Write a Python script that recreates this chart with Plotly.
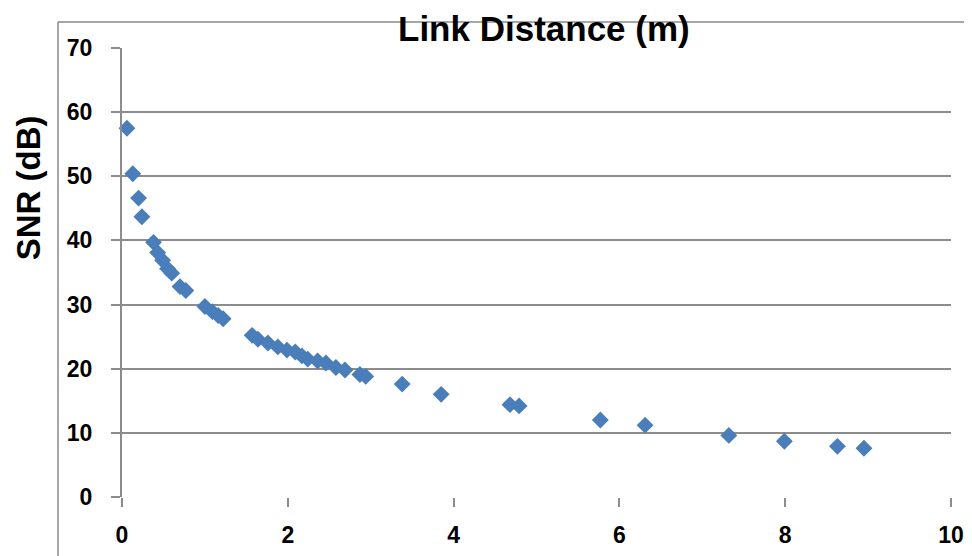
import plotly.graph_objects as go

# Data
link_distance_m = [0.06, 0.13, 0.20, 0.24, 0.38, 0.43, 0.49, 0.55, 0.60, 0.70, 0.77,
                   1.00, 1.09, 1.16, 1.22, 1.57, 1.64, 1.76, 1.88, 1.99, 2.09, 2.17,
                   2.24, 2.36, 2.46, 2.58, 2.69, 2.87, 2.94, 3.38, 3.85, 4.68, 4.79,
                   5.77, 6.31, 7.32, 7.99, 8.63, 8.95]
snr_db = [57.5, 50.4, 46.6, 43.7, 39.7, 38.1, 36.9, 35.6, 34.9, 32.8, 32.2,
          29.7, 28.9, 28.3, 27.8, 25.2, 24.6, 24.0, 23.4, 22.9, 22.6, 22.0,
          21.5, 21.2, 20.9, 20.2, 19.8, 19.1, 18.8, 17.6, 16.0, 14.4, 14.2,
          12.0, 11.2, 9.6, 8.7, 7.9, 7.6]

x_ticks = [0, 2, 4, 6, 8, 10]
y_ticks = [0, 10, 20, 30, 40, 50, 60, 70]

# page body has an 8px default margin; positions below are in figure pixels
OFF = 8
W, H = 972, 556
L, R, T, B = 122 - OFF, 951 - OFF, 47.7 - OFF, 496.7 - OFF

FONT = "Liberation Sans, Arial, sans-serif"
GRID = "#8c8c8c"


def px(xpix):
    return (xpix - OFF - L) / (R - L)


def py(ypix):
    return (B - (ypix - OFF)) / (B - T)


fig = go.Figure()
fig.add_trace(go.Scatter(
    x=link_distance_m, y=snr_db, mode="markers",
    marker=dict(symbol="diamond", size=13, color="#4a7ebb", line=dict(width=0)),
    showlegend=False, hoverinfo="x+y", cliponaxis=False,
))

fig.update_layout(
    width=W, height=H,
    margin=dict(l=L, r=W - R, t=T, b=H - B, pad=0, autoexpand=False),
    paper_bgcolor="white", plot_bgcolor="white",
    font=dict(family=FONT, color="black"),
    xaxis=dict(
        range=[0, 10], tickvals=x_ticks, ticktext=[str(v) for v in x_ticks],
        showgrid=False, zeroline=False, showline=False, automargin=False,
        ticks="outside", ticklen=9, tickwidth=2, tickcolor=GRID,
        tickfont=dict(family=FONT, size=23, color="black", weight="bold"),
        ticklabelstandoff=8,
    ),
    yaxis=dict(
        range=[0, 70], tickvals=y_ticks, ticktext=[str(v) for v in y_ticks],
        showgrid=True, gridcolor=GRID, gridwidth=2, zeroline=False,
        showline=True, linecolor=GRID, linewidth=2, automargin=False,
        ticks="outside", ticklen=9, tickwidth=2, tickcolor=GRID,
        tickfont=dict(family=FONT, size=23, color="black", weight="bold"),
        ticklabelstandoff=14,
    ),
    shapes=[
        # outer chart border (left and top edges visible)
        dict(type="line", xref="paper", yref="paper",
             x0=px(58), x1=px(58), y0=py(21.7), y1=py(600),
             line=dict(color="#8a8a8a", width=1.5), layer="below"),
        dict(type="line", xref="paper", yref="paper",
             x0=px(58), x1=px(1000), y0=py(21.7), y1=py(21.7),
             line=dict(color="#8a8a8a", width=1.5), layer="below"),
    ],
    annotations=[
        dict(text="Link Distance (m)", xref="paper", yref="paper",
             x=px(544), y=py(28),
             xanchor="center", yanchor="middle", showarrow=False,
             font=dict(family=FONT, size=35, color="black", weight="bold")),
        dict(text="SNR (dB)", xref="paper", yref="paper",
             x=px(28), y=py(188),
             xanchor="center", yanchor="middle", showarrow=False, textangle=-90,
             font=dict(family=FONT, size=33, color="black", weight="bold")),
    ],
)

fig.write_html("out.html")
